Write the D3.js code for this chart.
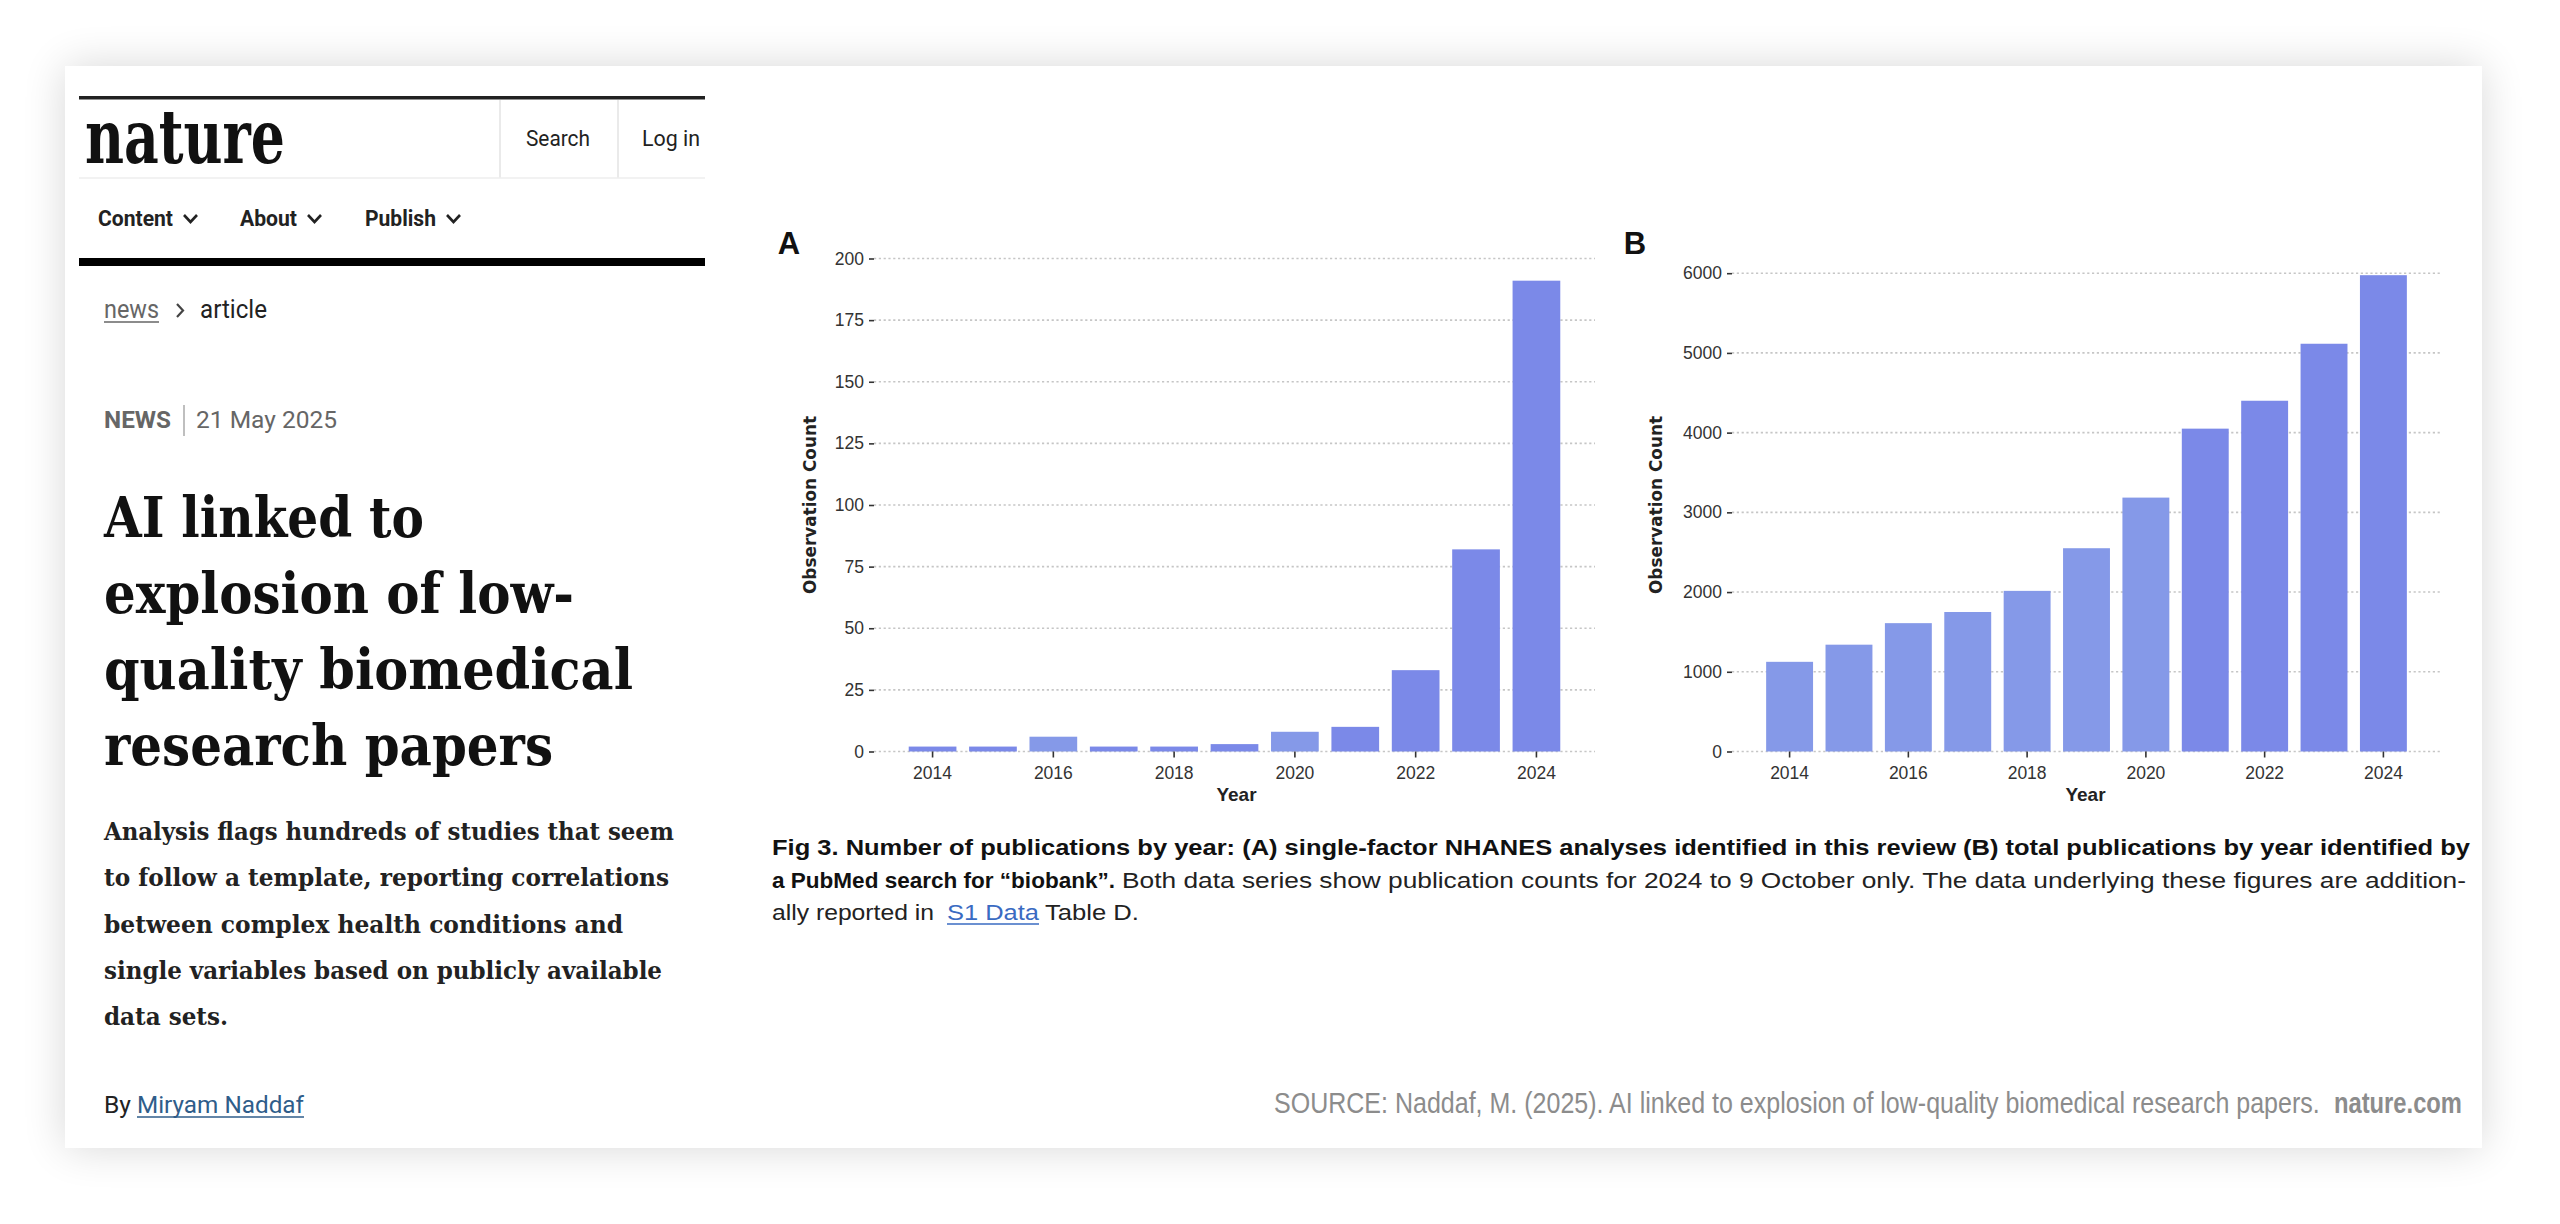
<!DOCTYPE html>
<html>
<head>
<meta charset="utf-8">
<script src="https://cdn.jsdelivr.net/npm/d3@7"></script>
<style>
  html, body { margin: 0; padding: 0; background: #ffffff; }
  svg { display: block; }
</style>
</head>
<body>
<svg id="root" width="2560" height="1224"></svg>
<script>
// ---------------- DATA ----------------
const years = [2014, 2015, 2016, 2017, 2018, 2019, 2020, 2021, 2022, 2023, 2024];
const nhanesCounts = [2, 2, 6, 2, 2, 3, 8, 10, 33, 82, 191];
const biobankCounts = [1125, 1340, 1610, 1750, 2015, 2550, 3185, 4050, 4400, 5115, 5975];
const yTicksA = [0, 25, 50, 75, 100, 125, 150, 175, 200];
const yTicksB = [0, 1000, 2000, 3000, 4000, 5000, 6000];
const xTickYears = [2014, 2016, 2018, 2020, 2022, 2024];

const titleLines = ["AI linked to", "explosion of low-", "quality biomedical", "research papers"];
const standfirstLines = [
  "Analysis flags hundreds of studies that seem",
  "to follow a template, reporting correlations",
  "between complex health conditions and",
  "single variables based on publicly available",
  "data sets."
];
const navItems = ["Content", "About", "Publish"];

// ---------------- STYLE ----------------
const BAR_LIGHT = "#8599e8";
const BAR_DARK = "#7b89e8";
const SANS = "'Liberation Sans', Arial, sans-serif";
const ROBOTO = "Roboto, 'Liberation Sans', sans-serif";
const SERIF = "'DejaVu Serif', 'Liberation Serif', serif";

const svg = d3.select("#root");
const defs = svg.append("defs");
const f = defs.append("filter").attr("id", "shadow").attr("x", "-10%").attr("y", "-15%").attr("width", "120%").attr("height", "130%");
f.append("feGaussianBlur").attr("in", "SourceAlpha").attr("stdDeviation", 22);
f.append("feComponentTransfer").append("feFuncA").attr("type", "linear").attr("slope", 0.16);
const fm = f.append("feMerge");
fm.append("feMergeNode");
fm.append("feMergeNode").attr("in", "SourceGraphic");

// card
svg.append("rect").attr("x", 65).attr("y", 66).attr("width", 2417).attr("height", 1082)
  .attr("fill", "#fff").attr("filter", "url(#shadow)");

function txt(g, x, y, s, o) {
  const t = g.append("text").attr("x", x).attr("y", y).text(s)
    .attr("font-family", o.family || SANS)
    .attr("font-size", o.size)
    .attr("font-weight", o.weight || "normal")
    .attr("fill", o.fill || "#222");
  if (o.stretch) t.attr("font-stretch", o.stretch);
  if (o.anchor) t.attr("text-anchor", o.anchor);
  if (o.width) t.attr("textLength", o.width).attr("lengthAdjust", "spacingAndGlyphs");
  return t;
}
// text scaled horizontally (via transform) to a target width
function scaledTxt(g, x, y, s, o) {
  const t = g.append("text").text(s)
    .attr("font-family", o.family || SANS)
    .attr("font-size", o.size)
    .attr("font-weight", o.weight || "normal")
    .attr("fill", o.fill || "#222");
  const len = t.node().getComputedTextLength() || o.width;
  t.attr("transform", `translate(${x},${y}) scale(${o.width / len},1)`);
  return t;
}

// ---------------- LEFT COLUMN (article header) ----------------
const L = svg.append("g");
L.append("rect").attr("x", 79).attr("y", 96).attr("width", 626).attr("height", 3.5).attr("fill", "#222");
txt(L, 85, 163, "nature", { family: SERIF, size: 74, weight: "bold", stretch: "condensed", width: 200, fill: "#111" });
L.append("line").attr("x1", 500).attr("x2", 500).attr("y1", 100).attr("y2", 178).attr("stroke", "#e3e3e3").attr("stroke-width", 1.5);
L.append("line").attr("x1", 618).attr("x2", 618).attr("y1", 100).attr("y2", 178).attr("stroke", "#e3e3e3").attr("stroke-width", 1.5);
L.append("line").attr("x1", 79).attr("x2", 705).attr("y1", 178).attr("y2", 178).attr("stroke", "#eeeeee").attr("stroke-width", 1.5);
txt(L, 526, 146, "Search", { family: ROBOTO, size: 22, width: 64, fill: "#222" });
txt(L, 642, 146, "Log in", { family: ROBOTO, size: 22, width: 58, fill: "#222" });

const navX = [98, 240, 365], navW = [75, 57, 71], chevX = [184, 308, 447];
navItems.forEach((n, i) => {
  txt(L, navX[i], 226, n, { family: ROBOTO, size: 22, weight: "bold", width: navW[i], fill: "#222" });
  L.append("path").attr("d", `M${chevX[i]},${215} l6.5,7 l6.5,-7`).attr("fill", "none").attr("stroke", "#222").attr("stroke-width", 2.6);
});
L.append("rect").attr("x", 79).attr("y", 258).attr("width", 626).attr("height", 8).attr("fill", "#000");

// breadcrumb
txt(L, 104, 318, "news", { family: ROBOTO, size: 25, width: 55, fill: "#666" });
L.append("line").attr("x1", 104).attr("x2", 159).attr("y1", 322).attr("y2", 322).attr("stroke", "#666").attr("stroke-width", 1.5);
L.append("path").attr("d", "M177,304 l6,6.5 l-6,6.5").attr("fill", "none").attr("stroke", "#444").attr("stroke-width", 2.2);
txt(L, 200, 318, "article", { family: ROBOTO, size: 25, width: 67, fill: "#222" });

// NEWS | date
txt(L, 104, 428, "NEWS", { family: ROBOTO, size: 24, weight: "bold", width: 67, fill: "#666" });
L.append("line").attr("x1", 184).attr("x2", 184).attr("y1", 405).attr("y2", 436).attr("stroke", "#aaa").attr("stroke-width", 1.5);
txt(L, 196, 428, "21 May 2025", { family: ROBOTO, size: 24, width: 141, fill: "#666" });

// title
const titleW = [320, 470, 529, 449];
titleLines.forEach((s, i) => {
  txt(L, 104, 537 + i * 76, s, { family: SERIF, size: 56, weight: "bold", stretch: "condensed", width: titleW[i], fill: "#111" });
});

// standfirst
const standW = [570, 565, 519, 558, 124];
standfirstLines.forEach((s, i) => {
  txt(L, 104, 840 + i * 46.3, s, { family: SERIF, size: 24, weight: "bold", stretch: "condensed", width: standW[i], fill: "#222" });
});

// byline
txt(L, 104, 1113, "By", { family: ROBOTO, size: 24, width: 27, fill: "#222" });
txt(L, 137, 1113, "Miryam Naddaf", { family: ROBOTO, size: 24, width: 167, fill: "#2f5d8a" });
L.append("line").attr("x1", 137).attr("x2", 304).attr("y1", 1117).attr("y2", 1117).attr("stroke", "#2f5d8a").attr("stroke-width", 1.5);

// ---------------- CHARTS ----------------
function barChart(cfg) {
  const g = svg.append("g");
  const x = d3.scaleBand().domain(years).range([cfg.x0, cfg.x1]).paddingInner(0.21).paddingOuter(0.575);
  const y = d3.scaleLinear().domain([0, cfg.yMax]).range([cfg.yBottom, cfg.yTop]);

  // gridlines
  g.selectAll("line.grid").data(cfg.yTicks).join("line")
    .attr("x1", cfg.x0).attr("x2", cfg.x1)
    .attr("y1", d => y(d)).attr("y2", d => y(d))
    .attr("stroke", "#c6c6c6").attr("stroke-width", 1.6).attr("stroke-dasharray", "2.2,2.6");

  // bars
  g.selectAll("rect.bar").data(cfg.values).join("rect")
    .attr("x", (d, i) => x(years[i]))
    .attr("width", x.bandwidth())
    .attr("y", d => y(d))
    .attr("height", d => y(0) - y(d))
    .attr("fill", (d, i) => cfg.light(years[i]) ? BAR_LIGHT : BAR_DARK);

  // y axis
  const ya = g.append("g").attr("transform", `translate(${cfg.x0},0)`)
    .call(d3.axisLeft(y).tickValues(cfg.yTicks).tickSize(5).tickPadding(5).tickFormat(d3.format("d")));
  ya.select(".domain").remove();
  ya.selectAll(".tick line").attr("stroke", "#333").attr("stroke-width", 1.6);
  ya.selectAll(".tick text").attr("font-family", SANS).attr("font-size", 17.5).attr("fill", "#333");

  // x axis
  const xa = g.append("g").attr("transform", `translate(0,${cfg.yBottom})`)
    .call(d3.axisBottom(x).tickValues(xTickYears).tickSize(6).tickPadding(9));
  xa.select(".domain").remove();
  xa.selectAll(".tick line").attr("stroke", "#333").attr("stroke-width", 1.6);
  xa.selectAll(".tick text").attr("font-family", SANS).attr("font-size", 17.5).attr("fill", "#333");

  // labels
  txt(g, (cfg.x0 + cfg.x1) / 2 + cfg.yearDx, 801, "Year", { family: SANS, size: 19, weight: "bold", anchor: "middle", fill: "#222" });
  g.append("text").attr("transform", `translate(${cfg.ylabX},505) rotate(-90)`)
    .attr("text-anchor", "middle").attr("dy", "0.35em")
    .attr("font-family", "'DejaVu Sans', Verdana, sans-serif").attr("font-weight", "bold").attr("font-size", 17.5)
    .attr("textLength", 178).attr("lengthAdjust", "spacingAndGlyphs")
    .attr("fill", "#222").text("Observation Count");
  txt(g, cfg.panelX, 254, cfg.panel, { family: SANS, size: 31, weight: "bold", anchor: "middle", fill: "#111" });
}

barChart({
  x0: 874, x1: 1595, yBottom: 751.5, yTop: 258.5, yMax: 200,
  values: nhanesCounts, yTicks: yTicksA,
  light: yr => yr === 2016 || yr === 2020,
  ylabX: 810, panel: "A", panelX: 789, yearDx: 2
});
barChart({
  x0: 1732, x1: 2441, yBottom: 751.5, yTop: 273.2, yMax: 6000,
  values: biobankCounts, yTicks: yTicksB,
  light: yr => yr <= 2020,
  ylabX: 1656, panel: "B", panelX: 1635, yearDx: -1
});

// ---------------- CAPTION ----------------
const C = svg.append("g");
txt(C, 772, 855, "Fig 3.  Number of publications by year: (A) single-factor NHANES analyses identified in this review (B) total publications by year identified by",
  { family: SANS, size: 22, weight: "bold", width: 1698, fill: "#111" });
txt(C, 772, 888, "a PubMed search for “biobank”.", { family: SANS, size: 22, weight: "bold", width: 343, fill: "#111" });
txt(C, 1122, 888, "Both data series show publication counts for 2024 to 9 October only. The data underlying these figures are addition-",
  { family: SANS, size: 22, width: 1344, fill: "#222" });
txt(C, 772, 920, "ally reported in", { family: SANS, size: 22, width: 162, fill: "#222" });
txt(C, 947, 920, "S1 Data", { family: SANS, size: 22, width: 92, fill: "#3a6bc2" });
C.append("line").attr("x1", 947).attr("x2", 1039).attr("y1", 924).attr("y2", 924).attr("stroke", "#3a6bc2").attr("stroke-width", 1.5);
txt(C, 1045, 920, "Table D.", { family: SANS, size: 22, width: 94, fill: "#222" });

// ---------------- SOURCE ----------------
scaledTxt(svg, 1274, 1113, "SOURCE: Naddaf, M. (2025). AI linked to explosion of low-quality biomedical research papers.",
  { family: SANS, size: 29, width: 1046, fill: "#8c8c8c" });
scaledTxt(svg, 2334, 1113, "nature.com", { family: SANS, size: 29, weight: "bold", width: 128, fill: "#8c8c8c" });
</script>
</body>
</html>
